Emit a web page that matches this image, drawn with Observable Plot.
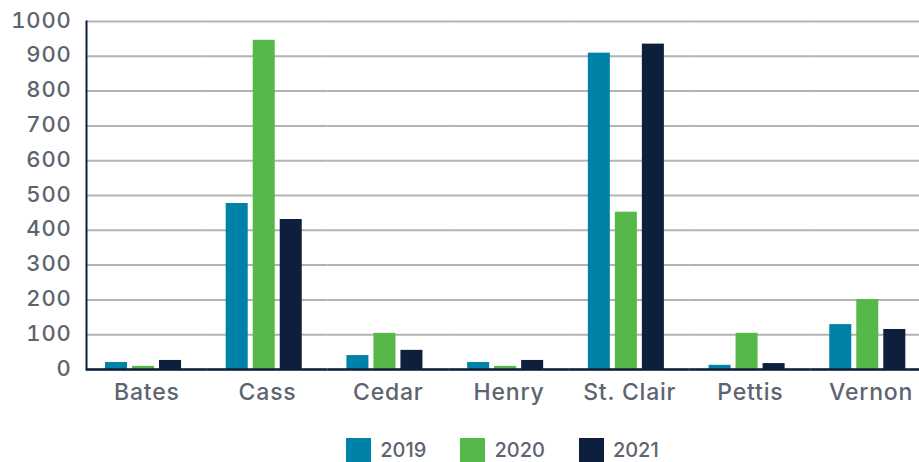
<!DOCTYPE html>
<html>
<head>
<meta charset="utf-8">
<script src="https://cdn.jsdelivr.net/npm/d3@7"></script>
<script src="https://cdn.jsdelivr.net/npm/@observablehq/plot@0.6"></script>
<style>
  html, body { margin: 0; padding: 0; background: #ffffff; }
  body { width: 919px; height: 462px; overflow: hidden; font-family: Inter, "Open Sans", sans-serif; }
  #legend { display: flex; justify-content: center; align-items: center; gap: 34px; padding-left: 86px; margin-top: 18px; height: 24px; }
  .item { display: flex; align-items: center; gap: 9px; font-size: 20px; font-weight: 500; line-height: 1; color: #5d6470; }
  .sw { width: 25px; height: 24px; display: inline-block; }
</style>
</head>
<body>
<div id="chart"></div>
<div id="legend"></div>
<script>
const counties = ["Bates", "Cass", "Cedar", "Henry", "St. Clair", "Pettis", "Vernon"];
const years = ["2019", "2020", "2021"];
const values2019 = [20, 477, 40, 20, 909, 12, 129];
const values2020 = [9, 946, 104, 9, 452, 104, 201];
const values2021 = [26, 431, 55, 26, 935, 17, 115];
const colors = ["#0081a7", "#56b848", "#0d1f3c"];
const yTicks = [0, 100, 200, 300, 400, 500, 600, 700, 800, 900, 1000];

const series = [values2019, values2020, values2021];
const data = counties.flatMap((c, i) => years.map((y, j) => ({county: c, year: y, value: series[j][i]})));

const chart = Plot.plot({
  width: 919,
  height: 420,
  marginLeft: 86,
  marginRight: -12,
  marginTop: 21,
  marginBottom: 51,
  style: {fontFamily: "Inter, 'Open Sans', sans-serif", fontWeight: 500, letterSpacing: "0.8px", color: "#5d6470", background: "white"},
  fx: {domain: counties, padding: 0, round: false, label: null},
  x: {domain: years, axis: null, round: false, paddingInner: 0.185, paddingOuter: 0.827, align: 0.425},
  y: {domain: [0, 1000], axis: null},
  color: {domain: years, range: colors},
  marks: [
    Plot.ruleY(yTicks, {stroke: "#b3b3b6", strokeWidth: 2}),
    Plot.barY(data, {fx: "county", x: "year", y: "value", fill: "year"}),
    Plot.ruleY([0], {stroke: "#0d1f3c", strokeWidth: 2.5}),
    Plot.frame({anchor: "left", facet: "super", stroke: "#0d1f3c", strokeWidth: 2}),
    Plot.axisY(yTicks, {tickSize: 0, tickPadding: 15, fontSize: 22, dy: -1, label: null, tickFormat: d => String(d)}),
    Plot.axisFx({anchor: "bottom", tickSize: 0, tickPadding: 14, fontSize: 23, label: null})
  ]
});
document.getElementById("chart").appendChild(chart);

const legend = document.getElementById("legend");
years.forEach((y, j) => {
  const item = document.createElement("div");
  item.className = "item";
  const sw = document.createElement("span");
  sw.className = "sw";
  sw.style.background = colors[j];
  const t = document.createElement("span");
  t.textContent = y;
  item.appendChild(sw);
  item.appendChild(t);
  legend.appendChild(item);
});
</script>
</body>
</html>
